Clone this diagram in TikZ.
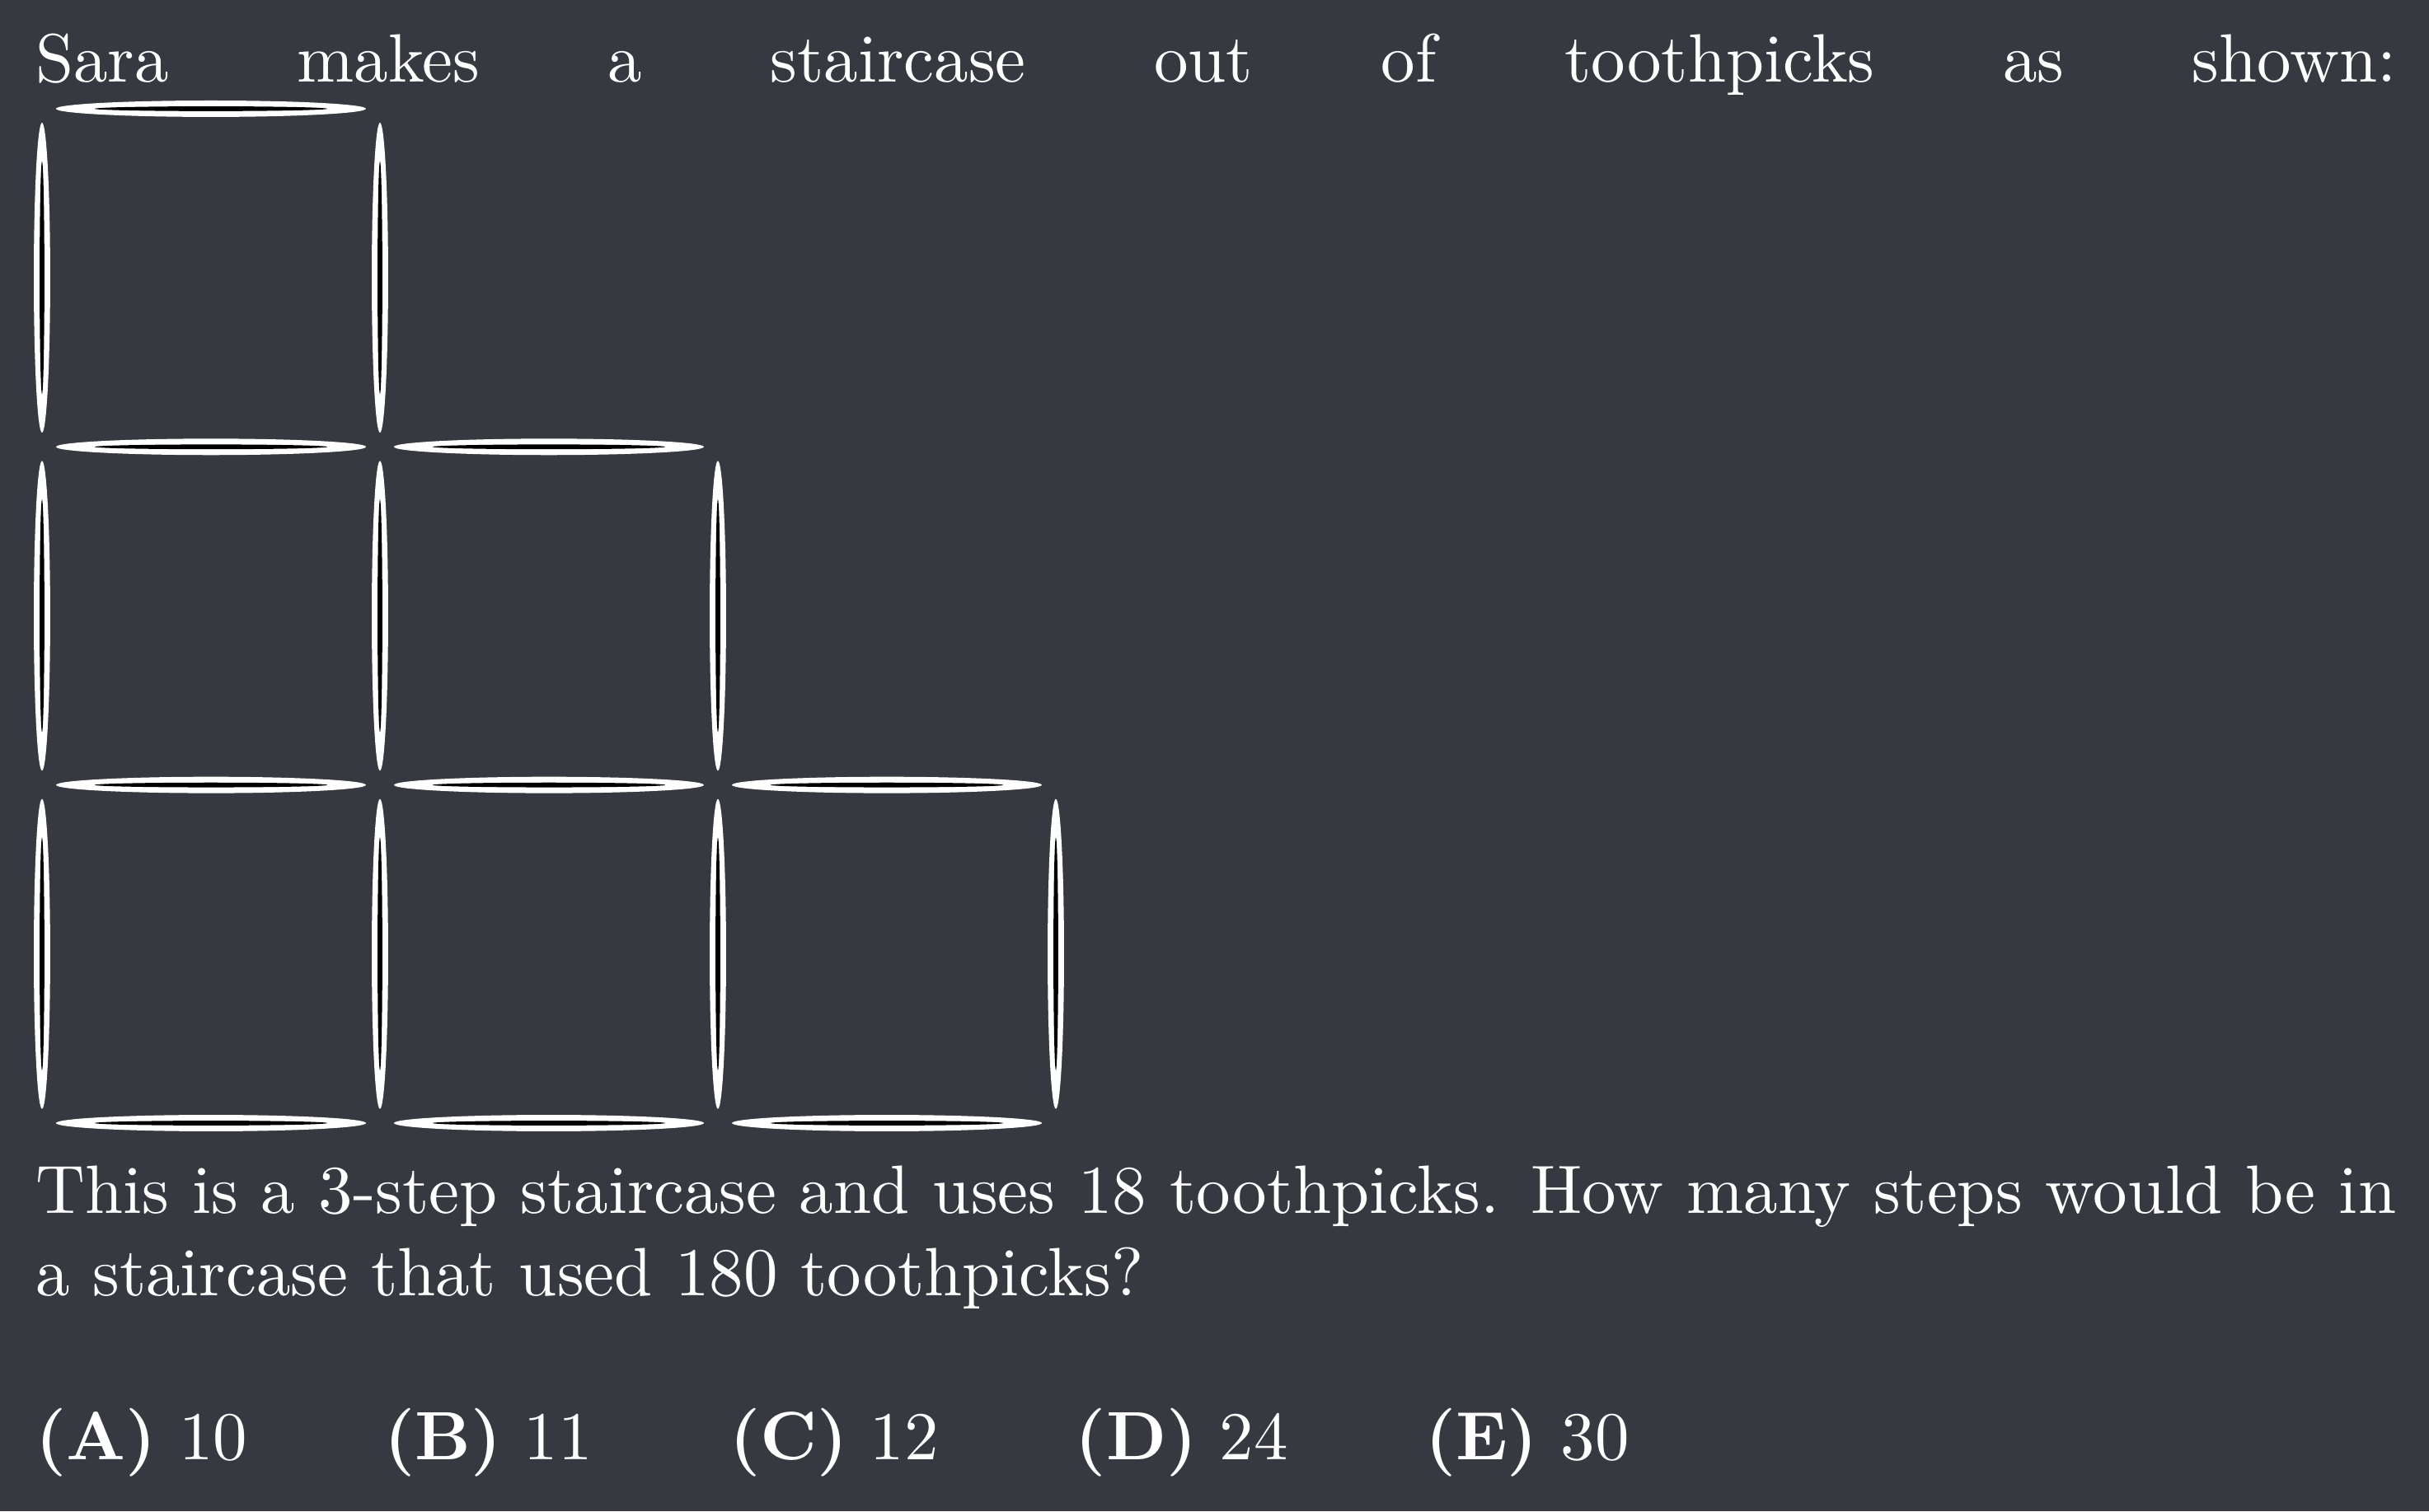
\documentclass[tikz,border=0pt]{standalone}
\usepackage{xcolor}
\usepackage{tikz}
\definecolor{bgdark}{RGB}{54,57,63}
\tikzset{
    txt/.style={text=white, anchor=base west, inner sep=0pt},
    pick/.style={fill=white},
    core/.style={fill=black}
}
% one toothpick, lying or standing, at its centre
\newcommand{\hpick}[2]{%
    \fill[pick] (#1,#2) ellipse (22.65pt and 1.2pt);
    \fill[core] (#1,#2) ellipse (17pt and 0.35pt);}
\newcommand{\vpick}[2]{%
    \fill[pick] (#1,#2) ellipse (1.2pt and 22.65pt);
    \fill[core] (#1,#2) ellipse (0.35pt and 17pt);}

\begin{document}
\begin{tikzpicture}[x=1pt, y=1pt]
    \fill[bgdark] (0,0) rectangle (355,-220.93);

    \node[txt] (intro) at (5,-11.96)
        {\makebox[345pt][s]{Sara makes a staircase out of toothpicks as shown:}};

    % staircase: row r has r squares
    \foreach \r in {1,2,3} {
        \foreach \c in {1,...,\r} {
            \pgfmathsetmacro{\xl}{6.14+49.39*(\c-1)}
            \pgfmathsetmacro{\yt}{-15.9-49.43*(\r-1)}
            \hpick{\xl+24.7}{\yt-49.43}
            \vpick{\xl}{\yt-24.7}
        }
        \pgfmathsetmacro{\xr}{6.14+49.39*\r}
        \pgfmathsetmacro{\yt}{-15.9-49.43*(\r-1)}
        \vpick{\xr}{\yt-24.7}
        \hpick{\xr-24.7}{\yt}
    }

    \node[txt] (question) at (5,-177.4)
        {\parbox[t]{345pt}{This is a 3-step staircase and uses 18 toothpicks. How many steps would be in a staircase that used 180 toothpicks?}};

    \node[txt] (choices) at (5,-213.4)
        {\textbf{(A)} 10\qquad\textbf{(B)} 11\qquad\textbf{(C)} 12\qquad\textbf{(D)} 24\qquad\textbf{(E)} 30};
\end{tikzpicture}
\end{document}
